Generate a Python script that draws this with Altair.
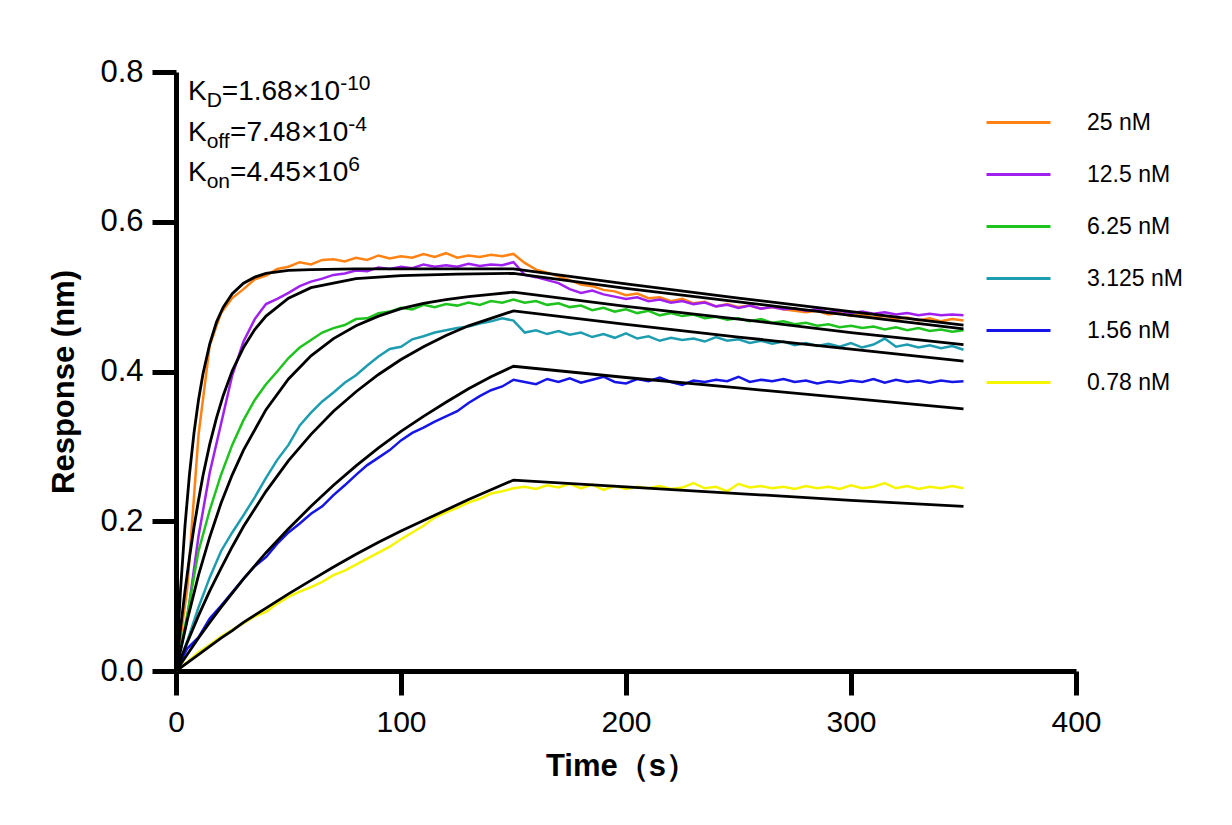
import altair as alt
import pandas as pd

# ---------------- data ----------------
CONCS = ["25 nM", "12.5 nM", "6.25 nM", "3.125 nM", "1.56 nM", "0.78 nM"]
COLORS = ["#FF8214", "#A020F0", "#1EC31E", "#1F9DB0", "#1515E8", "#F5F500"]

T_RAW = list(range(0, 351, 5))

raw_25 = [0.000, 0.110, 0.315, 0.435, 0.478, 0.498, 0.510, 0.523, 0.528, 0.537,
          0.540, 0.546, 0.543, 0.549, 0.550, 0.547, 0.552, 0.549, 0.555, 0.551,
          0.554, 0.552, 0.557, 0.553, 0.558, 0.552, 0.555, 0.553, 0.556, 0.554,
          0.557, 0.545, 0.536, 0.532, 0.527, 0.522, 0.516, 0.514, 0.509, 0.507,
          0.502, 0.504, 0.498, 0.499, 0.494, 0.497, 0.491, 0.493, 0.487, 0.490,
          0.486, 0.488, 0.484, 0.486, 0.483, 0.481, 0.479, 0.481, 0.476, 0.478,
          0.474, 0.476, 0.472, 0.474, 0.470, 0.472, 0.468, 0.471, 0.467, 0.470,
          0.468]
raw_12 = [0.000, 0.070, 0.180, 0.265, 0.330, 0.395, 0.440, 0.470, 0.490, 0.497,
          0.505, 0.514, 0.520, 0.524, 0.529, 0.531, 0.535, 0.534, 0.539, 0.537,
          0.540, 0.538, 0.543, 0.540, 0.542, 0.540, 0.544, 0.541, 0.543, 0.542,
          0.546, 0.529, 0.526, 0.522, 0.518, 0.510, 0.505, 0.508, 0.503, 0.500,
          0.497, 0.499, 0.494, 0.496, 0.492, 0.494, 0.490, 0.492, 0.487, 0.489,
          0.485, 0.488, 0.484, 0.486, 0.483, 0.484, 0.481, 0.483, 0.479, 0.481,
          0.478, 0.480, 0.477, 0.479, 0.476, 0.478, 0.475, 0.477, 0.475, 0.476,
          0.475]
raw_6 = [0.000, 0.075, 0.160, 0.215, 0.262, 0.302, 0.335, 0.362, 0.383, 0.400,
         0.418, 0.432, 0.442, 0.452, 0.458, 0.462, 0.470, 0.471, 0.478, 0.480,
         0.485, 0.483, 0.489, 0.486, 0.490, 0.488, 0.492, 0.489, 0.494, 0.492,
         0.496, 0.492, 0.494, 0.489, 0.491, 0.486, 0.488, 0.482, 0.485, 0.480,
         0.483, 0.478, 0.481, 0.475, 0.478, 0.474, 0.476, 0.471, 0.473, 0.469,
         0.471, 0.467, 0.470, 0.465, 0.467, 0.463, 0.465, 0.461, 0.463, 0.459,
         0.461, 0.458, 0.460, 0.456, 0.459, 0.455, 0.458, 0.454, 0.456, 0.453,
         0.455]
raw_3 = [0.000, 0.040, 0.085, 0.125, 0.160, 0.185, 0.208, 0.232, 0.258, 0.282,
         0.302, 0.328, 0.345, 0.360, 0.372, 0.385, 0.395, 0.408, 0.420, 0.430,
         0.433, 0.443, 0.447, 0.452, 0.455, 0.458, 0.460, 0.464, 0.467, 0.471,
         0.468, 0.452, 0.455, 0.450, 0.454, 0.449, 0.452, 0.446, 0.450, 0.445,
         0.451, 0.444, 0.447, 0.441, 0.445, 0.442, 0.444, 0.440, 0.446, 0.441,
         0.443, 0.438, 0.441, 0.437, 0.440, 0.435, 0.438, 0.434, 0.437, 0.433,
         0.438, 0.432, 0.436, 0.444, 0.433, 0.436, 0.432, 0.435, 0.431, 0.434,
         0.429]
raw_1 = [0.000, 0.030, 0.045, 0.070, 0.087, 0.105, 0.123, 0.140, 0.152, 0.170,
         0.185, 0.197, 0.210, 0.220, 0.235, 0.248, 0.262, 0.275, 0.285, 0.295,
         0.308, 0.318, 0.325, 0.333, 0.340, 0.347, 0.358, 0.367, 0.375, 0.380,
         0.389, 0.386, 0.383, 0.390, 0.386, 0.391, 0.385, 0.389, 0.393, 0.386,
         0.384, 0.390, 0.387, 0.392, 0.386, 0.382, 0.388, 0.386, 0.389, 0.387,
         0.393, 0.386, 0.389, 0.387, 0.390, 0.386, 0.388, 0.384, 0.387, 0.385,
         0.388, 0.386, 0.390, 0.385, 0.389, 0.386, 0.388, 0.385, 0.388, 0.386,
         0.387]
raw_0 = [0.000, 0.012, 0.025, 0.035, 0.046, 0.055, 0.064, 0.073, 0.079, 0.090,
         0.099, 0.106, 0.112, 0.119, 0.128, 0.134, 0.142, 0.150, 0.158, 0.166,
         0.176, 0.185, 0.194, 0.205, 0.212, 0.218, 0.225, 0.230, 0.237, 0.240,
         0.244, 0.246, 0.243, 0.248, 0.245, 0.250, 0.244, 0.249, 0.242, 0.247,
         0.243, 0.246, 0.244, 0.247, 0.243, 0.245, 0.251, 0.244, 0.246, 0.240,
         0.250, 0.245, 0.247, 0.244, 0.246, 0.243, 0.247, 0.244, 0.246, 0.243,
         0.248, 0.244, 0.246, 0.251, 0.244, 0.247, 0.243, 0.246, 0.244, 0.247,
         0.244]

T_FIT_FAST = [0, 2, 4, 6, 8, 10, 12, 15, 18, 21, 25, 30, 35, 40, 50, 60, 80,
              100, 125, 150, 200, 250, 300, 350]
T_FIT = [0, 5, 10, 15, 20, 25, 30, 40, 50, 60, 70, 80, 90, 100, 110, 120, 130,
         140, 150, 200, 250, 300, 350]

fit_25 = [0.000, 0.108, 0.194, 0.263, 0.318, 0.362, 0.397, 0.437, 0.466, 0.486,
          0.504, 0.518, 0.526, 0.531, 0.535, 0.536, 0.537, 0.537, 0.537, 0.537,
          0.517, 0.498, 0.480, 0.462]
fit_12 = [0.000, 0.057, 0.107, 0.152, 0.192, 0.228, 0.261, 0.303, 0.338, 0.368,
          0.401, 0.432, 0.456, 0.474, 0.498, 0.512, 0.524, 0.528, 0.530, 0.531,
          0.511, 0.493, 0.475, 0.457]
fit_6 = [0.000, 0.068, 0.128, 0.179, 0.224, 0.262, 0.295, 0.349, 0.390, 0.421,
         0.444, 0.461, 0.474, 0.484, 0.491, 0.496, 0.500, 0.503, 0.506, 0.487,
         0.470, 0.452, 0.436]
fit_3 = [0.000, 0.038, 0.074, 0.107, 0.137, 0.166, 0.193, 0.240, 0.281, 0.316,
         0.347, 0.373, 0.396, 0.416, 0.433, 0.448, 0.461, 0.471, 0.481, 0.463,
         0.446, 0.430, 0.414]
fit_1 = [0.000, 0.022, 0.044, 0.065, 0.085, 0.104, 0.123, 0.158, 0.190, 0.220,
         0.248, 0.274, 0.298, 0.320, 0.340, 0.359, 0.377, 0.393, 0.407, 0.392,
         0.378, 0.364, 0.350]
fit_0 = [0.000, 0.011, 0.022, 0.033, 0.044, 0.054, 0.065, 0.084, 0.103, 0.121,
         0.139, 0.156, 0.172, 0.187, 0.201, 0.215, 0.229, 0.242, 0.255, 0.246,
         0.237, 0.228, 0.220]

X_TICKS = [0, 100, 200, 300, 400]
Y_TICKS = [0.0, 0.2, 0.4, 0.6, 0.8]

ANNOT = [("K", "D", "=1.68×10", "-10"),
         ("K", "off", "=7.48×10", "-4"),
         ("K", "on", "=4.45×10", "6")]

# ---------------- tables ----------------
raw_series = [raw_25, raw_12, raw_6, raw_3, raw_1, raw_0]
fit_series = [(T_FIT_FAST, fit_25), (T_FIT_FAST, fit_12), (T_FIT, fit_6),
              (T_FIT, fit_3), (T_FIT, fit_1), (T_FIT, fit_0)]

raw_rows = []
for c, vals in zip(CONCS, raw_series):
    for t, v in zip(T_RAW, vals):
        raw_rows.append({"t": t, "r": v, "conc": c})
raw_df = pd.DataFrame(raw_rows)

fit_rows = []
for c, (ts, vals) in zip(CONCS, fit_series):
    for t, v in zip(ts, vals):
        fit_rows.append({"t": t, "r": v, "conc": c})
fit_df = pd.DataFrame(fit_rows)

FONT = "Liberation Sans, Arial, sans-serif"
NARROW = "Liberation Sans Narrow, Arial Narrow, Liberation Sans, sans-serif"

W, H = 900, 599

x_enc = alt.X("t:Q", scale=alt.Scale(domain=[0, 400], nice=False),
              axis=alt.Axis(values=X_TICKS, title="Time（s）", labelFont=NARROW,
                            labelFontSize=30, labelPadding=12, labelFlush=False,
                            titleFont=NARROW, titleFontSize=31, titleFontWeight="bold",
                            titleX=445, titleY=104, titleBaseline="alphabetic",
                            titleAlign="center"))
y_enc = alt.Y("r:Q", scale=alt.Scale(domain=[0, 0.8], nice=False),
              axis=alt.Axis(values=Y_TICKS, format=".1f", title="Response (nm)",
                            labelFont=FONT, labelFontSize=31, labelPadding=9,
                            labelFlush=False,
                            titleFont=FONT, titleFontSize=31, titleFontWeight="bold",
                            titleX=-103, titleY=H / 2 + 10, titleAngle=-90,
                            titleBaseline="alphabetic", titleAlign="center"))

raw = alt.Chart(raw_df).mark_line(strokeWidth=2.5).encode(
    x=x_enc, y=y_enc,
    color=alt.Color("conc:N", sort=CONCS,
                    scale=alt.Scale(domain=CONCS, range=COLORS),
                    legend=alt.Legend(title=None, orient="none", legendX=809, legendY=17,
                                      symbolType="stroke", symbolSize=4096,
                                      symbolStrokeWidth=3, labelFont=FONT,
                                      labelFontSize=23, labelColor="black",
                                      labelOffset=35, rowPadding=6, padding=0)),
)

fits = alt.Chart(fit_df).mark_line(color="black", strokeWidth=2.8).encode(
    x="t:Q", y="r:Q", detail="conc:N")

# annotation text (K_D, K_off, K_on)
MAIN, SMALL = 28, 21
layers = [raw, fits]
for i, (k, sub, body, sup) in enumerate(ANNOT):
    base = 28 + 40.5 * i
    x0 = 12
    x_sub = x0 + 0.667 * MAIN
    sub_w = {"D": 0.722, "off": 1.112, "on": 1.112}[sub] * SMALL
    x_body = x_sub + sub_w
    x_sup = x_body + 4.226 * MAIN
    for s, x, y, size in [(k, x0, base, MAIN), (sub, x_sub, base + 7, SMALL),
                          (body, x_body, base, MAIN), (sup, x_sup, base - 10, SMALL)]:
        layers.append(
            alt.Chart(pd.DataFrame({"label": [s]})).mark_text(
                align="left", baseline="alphabetic", font=FONT, fontSize=size,
                color="black").encode(text="label:N", x=alt.value(x), y=alt.value(y)))

chart = alt.layer(*layers).properties(
    width=W, height=H,
    autosize=alt.AutoSizeParams(type="none"),
    padding={"left": 168, "top": 64, "right": 148, "bottom": 138},
).configure_view(stroke=None).configure_axis(
    grid=False, domainColor="black", domainWidth=5, tickColor="black",
    tickWidth=5, tickSize=24, labelColor="black", titleColor="black",
)

chart.save("out.html", embed_options={"renderer": "svg", "actions": False})
